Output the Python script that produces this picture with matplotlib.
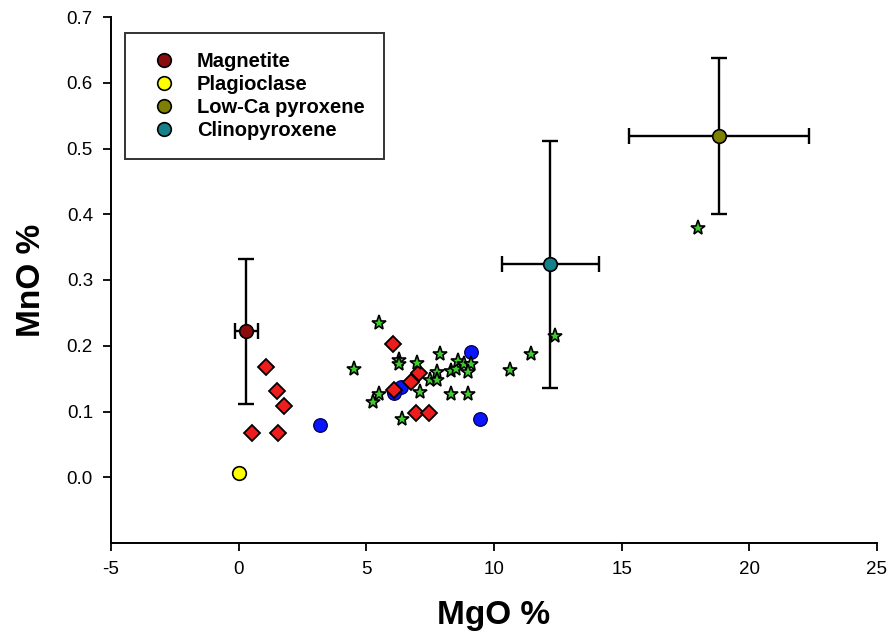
import matplotlib
matplotlib.use("Agg")
import matplotlib.pyplot as plt
from matplotlib.lines import Line2D

plt.rcParams['font.family'] = ['Liberation Sans', 'DejaVu Sans']

# Mineral averages with error bars
mineral_names = ["Magnetite", "Plagioclase", "Low-Ca pyroxene", "Clinopyroxene"]
mineral_colors = ["#8b0c0c", "#ffff00", "#808000", "#14808a"]
mineral_mgo = [0.3, 0.02, 18.8, 12.2]
mineral_mno = [0.222, 0.006, 0.519, 0.324]
mineral_mgo_err = [0.45, 0.0, 3.53, 1.9]
mineral_mno_err = [0.11, 0.0, 0.118, 0.188]

# Red diamonds
diamond_mgo = [1.07, 1.49, 1.76, 0.51, 1.55, 6.03, 7.07, 6.75, 6.08, 6.96, 7.47]
diamond_mno = [0.168, 0.131, 0.108, 0.068, 0.068, 0.203, 0.158, 0.145, 0.132, 0.098, 0.098]

# Blue circles
blue_mgo = [3.18, 9.10, 9.46, 6.36, 6.10]
blue_mno = [0.079, 0.190, 0.088, 0.138, 0.128]

# Green stars
star_mgo = [5.48, 4.53, 6.28, 6.28, 6.98, 5.48, 5.26, 7.10, 6.40, 7.87, 7.75, 7.49,
            7.78, 8.30, 8.51, 8.58, 8.81, 9.10, 8.99, 8.30, 8.99, 10.63, 11.46, 12.40, 17.98]
star_mno = [0.234, 0.165, 0.179, 0.172, 0.174, 0.126, 0.114, 0.129, 0.089, 0.187, 0.160, 0.148,
            0.148, 0.162, 0.164, 0.177, 0.173, 0.173, 0.160, 0.127, 0.127, 0.163, 0.187, 0.215, 0.379]

x_ticks = [-5, 0, 5, 10, 15, 20, 25]
y_ticks = [0.0, 0.1, 0.2, 0.3, 0.4, 0.5, 0.6, 0.7]

fig = plt.figure(figsize=(8.92, 6.41), dpi=100)
ax = fig.add_axes([111/892, 1-543/641, 766/892, 526/641])

for i in range(len(mineral_names)):
    xe = mineral_mgo_err[i] if mineral_mgo_err[i] > 0 else None
    ye = mineral_mno_err[i] if mineral_mno_err[i] > 0 else None
    ax.errorbar(mineral_mgo[i], mineral_mno[i], xerr=xe, yerr=ye, fmt='none',
                ecolor='black', elinewidth=1.7, capsize=6, capthick=1.7, zorder=2)

ax.plot(blue_mgo, blue_mno, 'o', color='#0a14ff', markersize=9.8,
        markeredgecolor='#000050', markeredgewidth=0.9, linestyle='none', zorder=3)
ax.plot(diamond_mgo, diamond_mno, 'D', color='#ee1c1c', markersize=8,
        markeredgecolor='black', markeredgewidth=1.3, linestyle='none', zorder=4)
ax.plot(star_mgo, star_mno, '*', color='#3ccc2c', markersize=11,
        markeredgecolor='black', markeredgewidth=1.2, linestyle='none', zorder=5)

for i in range(len(mineral_names)):
    ax.plot(mineral_mgo[i], mineral_mno[i], 'o', color=mineral_colors[i], markersize=9.8,
            markeredgecolor='black', markeredgewidth=1.2, linestyle='none', zorder=6)

ax.set_xlim(-5, 25)
ax.set_ylim(-0.1, 0.7)
ax.set_xticks(x_ticks)
ax.set_xticklabels([str(v) for v in x_ticks])
ax.set_yticks(y_ticks)
ax.set_yticklabels([f"{v:.1f}" for v in y_ticks])
ax.tick_params(direction='out', length=6, width=1.3, labelsize=13.5, pad=7)
for s in ['top', 'right']:
    ax.spines[s].set_visible(False)
for s in ['left', 'bottom']:
    ax.spines[s].set_linewidth(1.4)

ax.set_xlabel("MgO %", fontsize=24, fontweight='bold', labelpad=16)
ax.set_ylabel("MnO %", fontsize=24, fontweight='bold', labelpad=14)

handles = [Line2D([], [], marker='o', linestyle='none', color=c, markersize=9.8,
                  markeredgecolor='black', markeredgewidth=1.2) for c in mineral_colors]
leg = ax.legend(handles, mineral_names, loc='upper left',
                bbox_to_anchor=((125-111)/766, (543-33)/526),
                borderaxespad=0, prop={'weight': 'bold', 'size': 14.5},
                frameon=True, fancybox=False, edgecolor='black',
                borderpad=0.95, handlelength=2.0, handletextpad=0.62,
                labelspacing=0.2, numpoints=1)
leg.get_frame().set_linewidth(1.4)

fig.savefig("out.png", dpi=100)
